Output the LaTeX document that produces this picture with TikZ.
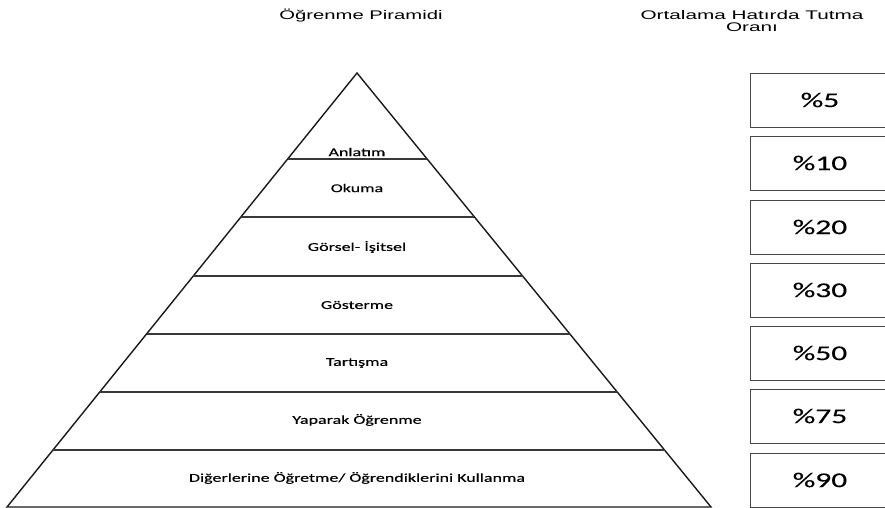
\documentclass[tikz,border=0pt]{standalone}
\usepackage{fontspec}
\setmainfont{Carlito}
\newfontfamily\labelfont{Carlito}[AutoFakeBold=0.3]
\newfontfamily\titlefont{Liberation Sans}
\usetikzlibrary{calc}
\newcommand{\widetext}[2]{\scalebox{#1}[1]{#2}}
\begin{document}
\begin{tikzpicture}[x=1pt,y=-1pt,
  edge/.style={line width=1.4pt, draw=black!90},
  tier/.style={line width=1.3pt, draw=black!78},
  tierlabel/.style={inner sep=0pt, font=\labelfont\bfseries\fontsize{12}{14}\selectfont},
  heading/.style={inner sep=0pt, align=center, font=\titlefont\fontsize{12.5}{13.5}\selectfont},
  ratebox/.style={draw=black!72, line width=1.4pt, minimum width=160pt, minimum height=54pt, anchor=north west, inner sep=0pt},
  rate/.style={inner sep=0pt, font=\labelfont\bfseries\fontsize{21}{24}\selectfont}]
\useasboundingbox (0,0) rectangle (885,508);
\clip (0,0) rectangle (885,508);

% headings
\node[heading] (h1) at (361,16) {\widetext{1.62}{Öğrenme Piramidi}};
\node[heading] (h2) at (752,21) {\widetext{1.66}{Ortalama Hatırda Tutma}\\[-1.5pt]\widetext{1.66}{Oranı}};

% pyramid outline
\coordinate (apex) at (357,73);
\coordinate (bl) at (7,507);
\coordinate (br) at (711,507);
\draw[edge, line join=miter] (bl) -- (apex) -- (br) -- cycle;

% tier separators (fraction of the height from the apex)
\foreach \y [count=\i] in {159,217,276,334,392,450}{
  \pgfmathsetmacro{\t}{(\y-73)/434}
  \coordinate (l\i) at ($(apex)!\t!(bl)$);
  \coordinate (r\i) at ($(apex)!\t!(br)$);
  \draw[tier] (l\i) -- (r\i);
}

% tier labels
\node[tierlabel] (t1) at (357,152) {\widetext{1.5}{Anlatım}};
\node[tierlabel] (t2) at (357,188) {\widetext{1.5}{Okuma}};
\node[tierlabel] (t3) at (357,247) {\widetext{1.5}{Görsel- İşitsel}};
\node[tierlabel] (t4) at (357,305) {\widetext{1.5}{Gösterme}};
\node[tierlabel] (t5) at (357,363) {\widetext{1.5}{Tartışma}};
\node[tierlabel] (t6) at (357,420) {\widetext{1.5}{Yaparak Öğrenme}};
\node[tierlabel] (t7) at (357,478) {\widetext{1.5}{Diğerlerine Öğretme/ Öğrendiklerini Kullanma}};

% retention boxes
\foreach \top/\val [count=\i] in {73/5,136/10,200/20,263/30,326/50,389/75,453/90}{
  \node[ratebox] (b\i) at (750,\top) {};
  \node[rate] (v\i) at (820,\top+27) {\widetext{1.5}{\%\val}};
}
\end{tikzpicture}
\end{document}
